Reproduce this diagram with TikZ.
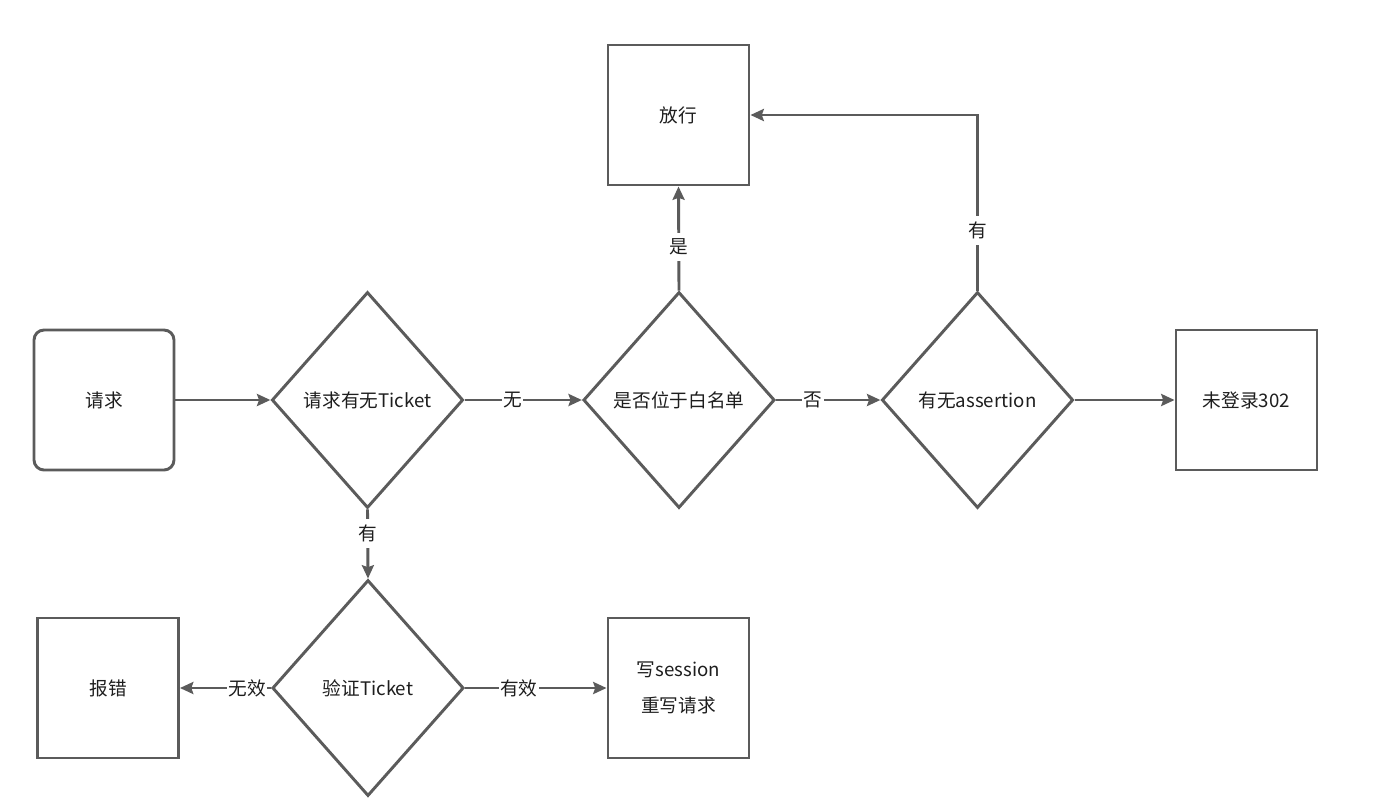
\documentclass[tikz,border=0pt]{standalone}
\usepackage{fontspec}
\setmainfont{Noto Sans CJK SC}
\usetikzlibrary{shapes.geometric,arrows.meta}
\definecolor{edgegray}{HTML}{5B5B5B}
\definecolor{txt}{HTML}{1E1E1E}
\tikzset{
  base/.style={draw=edgegray, line width=2.2pt, fill=white, inner sep=0pt},
  boxnode/.style={base, rectangle, minimum width=105.75pt, minimum height=105pt},
  roundnode/.style={base, rectangle, rounded corners=7.5pt, minimum width=105pt, minimum height=105pt},
  decision/.style={base, diamond, minimum width=143.5pt, minimum height=162pt},
  txtnode/.style={text=txt, font=\fontsize{14pt}{16pt}\selectfont, inner sep=1pt},
  flow/.style={draw=edgegray, line width=2.2pt, -{Stealth[length=10pt, width=9pt, inset=1.5pt]}},
  lbl/.style={fill=white, text=txt, font=\fontsize{14pt}{16pt}\selectfont, inner xsep=1pt, inner ysep=4.5pt}
}
\begin{document}
\begin{tikzpicture}[x=0.75pt, y=-0.75pt]
\useasboundingbox (0,0) rectangle (1377,800);

% start
\node[roundnode] (req) at (104,400) {};
\node[txtnode] (reqt) at (req) {请求};

% decisions on the main row
\node[decision] (hasticket) at (367.5,400) {};
\node[txtnode] (hasticket-t) at (hasticket) {请求有无Ticket};
\node[decision] (white) at (679,400) {};
\node[txtnode] (white-t) at (white) {是否位于白名单};
\node[decision] (assert) at (977.5,400) {};
\node[txtnode] (assert-t) at (assert) {有无assertion};

% outcome boxes
\node[boxnode] (noauth) at (1246.5,400) {};
\node[txtnode] (noauth-t) at (noauth) {未登录302};
\node[boxnode] (pass) at (678.5,115) {};
\node[txtnode] (pass-t) at (pass) {放行};

% ticket validation row
\node[decision] (verify) at (368,688) {};
\node[txtnode] (verify-t) at (verify) {验证Ticket};
\node[boxnode] (err) at (108,688) {};
\node[txtnode] (err-t) at (err) {报错};
\node[boxnode] (write) at (678.5,688) {};
\node[txtnode, align=center, font=\fontsize{14pt}{27pt}\selectfont] (write-t) at (write) {写session\\重写请求};

% connectors
\draw[flow] (req.east) -- (hasticket.west);
\draw[flow] (hasticket.east) -- node[lbl, pos=0.41] (l-no) {无} (white.west);
\draw[flow] (white.east) -- node[lbl, pos=0.355] (l-not) {否} (assert.west);
\draw[flow] (assert.east) -- (noauth.west);
\draw[flow] (white.north) -- node[lbl, pos=0.42] (l-yes) {是} (pass.south);
\draw[flow] (assert.north) |- node[lbl, pos=0.172] (l-has) {有} (pass.east);
\draw[flow] (hasticket.south) -- node[lbl, pos=0.35] (l-has2) {有} (verify.north);
\draw[flow] (verify.west) -- node[lbl, pos=0.26] (l-bad) {无效} (err.east);
\draw[flow] (verify.east) -- node[lbl, pos=0.38] (l-ok) {有效} (write.west);
\end{tikzpicture}
\end{document}
